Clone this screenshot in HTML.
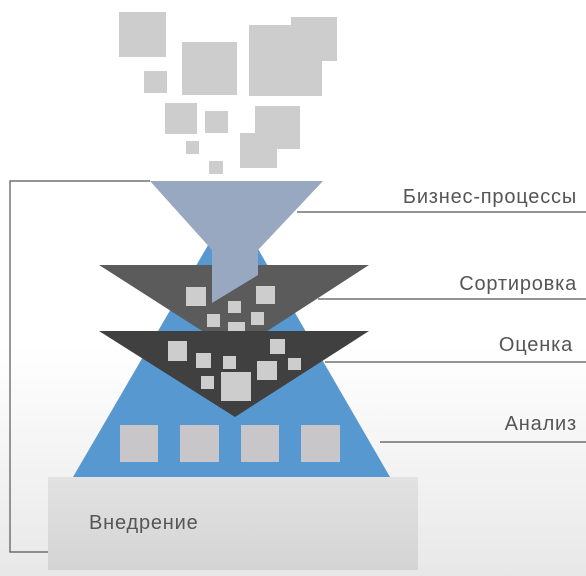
<!DOCTYPE html>
<html><head><meta charset="utf-8"><style>
html,body{margin:0;padding:0;background:#fff;}
svg{display:block;}
text{font-family:"Liberation Sans",sans-serif;fill:#555;}
</style></head><body>
<svg width="586" height="576" viewBox="0 0 586 576" xmlns="http://www.w3.org/2000/svg">
<defs>
<linearGradient id="bg" x1="0" y1="0" x2="0" y2="1">
<stop offset="0" stop-color="#fff"/><stop offset="0.6" stop-color="#fff"/><stop offset="1" stop-color="#e8e8e8"/>
</linearGradient>
<linearGradient id="base" x1="0" y1="0" x2="0" y2="1">
<stop offset="0" stop-color="#e2e2e2"/><stop offset="1" stop-color="#d4d4d4"/>
</linearGradient>
</defs>
<rect width="586" height="576" fill="url(#bg)"/>
<g fill="#cdcdcd">
<rect x="119" y="12" width="47" height="45"/>
<rect x="144" y="71" width="23" height="22"/>
<rect x="182" y="42" width="55" height="53"/>
<rect x="249" y="25" width="73" height="71"/>
<rect x="291" y="17" width="46" height="44"/>
<rect x="165" y="103" width="32" height="31"/>
<rect x="205" y="111" width="23" height="22"/>
<rect x="255" y="106" width="45" height="43"/>
<rect x="240" y="133" width="37" height="35"/>
<rect x="186" y="141" width="13" height="13"/>
<rect x="209" y="161" width="14" height="13"/>
</g>
<g stroke="#555" stroke-width="1.2" fill="none">
<polyline points="150,181 10,181 10,552 48,552"/>
<line x1="297" y1="212" x2="586" y2="212"/>
<line x1="318" y1="299" x2="586" y2="299"/>
<line x1="325" y1="362" x2="586" y2="362"/>
<line x1="380" y1="442" x2="586" y2="442"/>
</g>
<polygon points="232,204 390,477 73,477" fill="#5798d1"/>
<polygon points="99,265 369,265 235,352" fill="#5b5b5b"/>
<polygon points="150,181 323,181 258,250 258,275 212,303 212,250" fill="#98a8c0"/>
<g fill="#cdcdcd">
<rect x="186" y="287" width="20" height="19"/>
<rect x="256" y="286" width="19" height="18"/>
<rect x="228" y="301" width="13" height="12"/>
<rect x="207" y="314" width="13" height="13"/>
<rect x="251" y="312" width="13" height="13"/>
<rect x="228" y="322" width="17" height="16"/>
</g>
<polygon points="99,331 369,331 235,417" fill="#404040"/>
<g fill="#cdcdcd">
<rect x="168" y="341" width="19" height="20"/>
<rect x="196" y="353" width="15" height="15"/>
<rect x="223" y="356" width="13" height="13"/>
<rect x="270" y="339" width="15" height="15"/>
<rect x="257" y="361" width="20" height="19"/>
<rect x="288" y="358" width="13" height="12"/>
<rect x="201" y="376" width="13" height="13"/>
<rect x="221" y="372" width="30" height="29"/>
</g>
<g fill="#c8c6c8">
<rect x="120" y="425" width="38" height="37"/>
<rect x="180" y="425" width="39" height="37"/>
<rect x="241" y="425" width="38" height="37"/>
<rect x="301" y="425" width="39" height="37"/>
</g>
<rect x="48" y="477" width="370" height="93" fill="url(#base)"/>
<g font-size="20" letter-spacing="0.8">
<text x="89" y="529">Внедрение</text>
<text x="577" y="203" text-anchor="end">Бизнес-процессы</text>
<text x="577" y="290" text-anchor="end">Сортировка</text>
<text x="573" y="351" text-anchor="end">Оценка</text>
<text x="577" y="430" text-anchor="end">Анализ</text>
</g>
</svg>
</body></html>
